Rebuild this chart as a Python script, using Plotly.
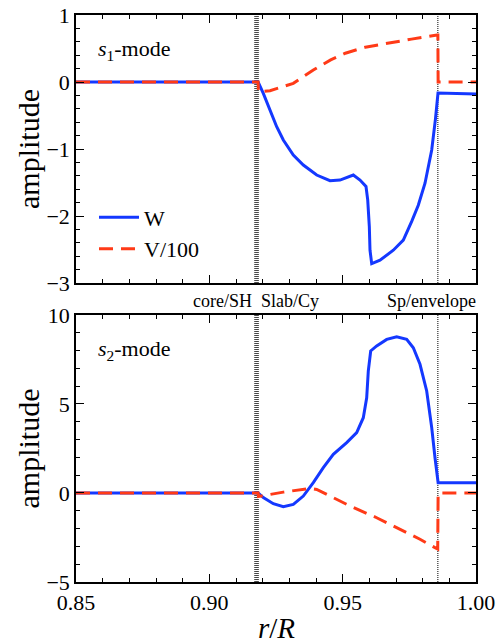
import plotly.graph_objects as go

# ---- data ----
r_w1 = [0.85, 0.9183, 0.92024, 0.92275, 0.92526, 0.92774, 0.93149, 0.93524, 0.94026, 0.94525,
        0.949, 0.95399, 0.9565, 0.95875, 0.95939, 0.96, 0.96025, 0.96089, 0.964, 0.96899,
        0.97274, 0.97589, 0.97836, 0.98088, 0.98275, 0.98339, 0.9848, 0.98575, 1.0]
w1 = [0, 0, -0.169, -0.418, -0.667, -0.866, -1.09, -1.239, -1.388, -1.473,
      -1.463, -1.388, -1.463, -1.56, -1.76, -2.16, -2.51, -2.71, -2.66, -2.51,
      -2.36, -2.08, -1.84, -1.51, -1.16, -1.015, -0.55, -0.164, -0.18]

r_v1 = [0.85, 0.9183, 0.9184, 0.92275, 0.93149, 0.93899, 0.9455, 0.951, 0.9585, 0.9683, 0.9758, 0.9854, 0.9857, 0.9858, 1.0]
v1 = [0, 0, -0.145, -0.13, -0.02, 0.18, 0.33, 0.43, 0.52, 0.59, 0.64, 0.70, 0.70, 0.0, 0.0]

r_w2 = [0.85, 0.9183, 0.92024, 0.92399, 0.92774, 0.93149, 0.93524, 0.93899, 0.94274, 0.94649,
        0.95151, 0.95526, 0.95774, 0.95901, 0.95961, 0.96051, 0.96276, 0.96651, 0.97026, 0.97401,
        0.97649, 0.979, 0.98151, 0.98339, 0.98463, 0.98549, 0.9858, 1.0]
w2 = [0, 0, -0.26, -0.6, -0.77, -0.64, -0.17, 0.58, 1.42, 2.17,
      2.83, 3.39, 4.23, 5.35, 6.85, 7.98, 8.26, 8.63, 8.78, 8.63,
      8.16, 7.23, 5.73, 3.67, 1.98, 0.9, 0.58, 0.58]

r_v2 = [0.85, 0.9183, 0.9184, 0.92774, 0.93775, 0.94026, 0.94525, 0.95275, 0.96276, 0.9715, 0.979, 0.98463, 0.98564, 0.9858, 1.0]
v2 = [0, 0, -0.2, 0.05, 0.26, 0.2, -0.17, -0.73, -1.39, -2.04, -2.6, -3.07, -3.15, 0.0, 0.0]

boundary_lines = [0.9171, 0.9175, 0.9179, 0.9183]
envelope_line = 0.9857
region_labels = ["core/SH", "Slab/Cy", "Sp/envelope"]

BLUE = "#1438ff"
RED = "#ff3a17"
FONT = "Liberation Serif"

fig = go.Figure()
fig.add_trace(go.Scatter(x=r_w1, y=w1, mode="lines", name="W",
                         line=dict(color=BLUE, width=3), xaxis="x", yaxis="y"))
fig.add_trace(go.Scatter(x=r_v1, y=v1, mode="lines", name="V/100",
                         line=dict(color=RED, width=3, dash="14px,8px"), xaxis="x", yaxis="y"))
fig.add_trace(go.Scatter(x=r_w2, y=w2, mode="lines", showlegend=False,
                         line=dict(color=BLUE, width=3), xaxis="x2", yaxis="y2"))
fig.add_trace(go.Scatter(x=r_v2, y=v2, mode="lines", showlegend=False,
                         line=dict(color=RED, width=3, dash="14px,8px"), xaxis="x2", yaxis="y2"))

shapes = []
for yr in ["y", "y2"]:
    xr = "x" if yr == "y" else "x2"
    for xv in boundary_lines + [envelope_line]:
        shapes.append(dict(type="line", xref=xr, yref=yr + " domain", x0=xv, x1=xv, y0=0, y1=1,
                           line=dict(color="black", width=1, dash="1px,1px"), layer="below"))

axis_common = dict(showline=True, linecolor="black", linewidth=1.5, mirror="allticks",
                   ticks="inside", ticklen=8, tickwidth=1.2, tickcolor="black",
                   showgrid=False, zeroline=False, automargin=False,
                   tickfont=dict(family=FONT, size=22, color="black"))

top_dom = [0.5273, 1.0]
bot_dom = [0.0, 0.4709]
minor_x = dict(ticks="inside", dtick=0.01, ticklen=4, tickcolor="black", tickwidth=1)

fig.update_layout(
    width=498, height=644,
    margin=dict(l=76, r=22, t=15, b=62, autoexpand=False),
    paper_bgcolor="white", plot_bgcolor="white",
    font=dict(family=FONT, color="black"),
    shapes=shapes,
    xaxis=dict(axis_common, domain=[0, 1], range=[0.85, 1.0], anchor="y",
               dtick=0.05, showticklabels=False, minor=minor_x),
    yaxis=dict(axis_common, domain=top_dom, range=[-3, 1], anchor="x", dtick=1,
               minor=dict(ticks="inside", dtick=0.2, ticklen=4, tickcolor="black", tickwidth=1)),
    xaxis2=dict(axis_common, domain=[0, 1], range=[0.85, 1.0], anchor="y2",
                dtick=0.05, tickformat=".2f", minor=minor_x),
    yaxis2=dict(axis_common, domain=bot_dom, range=[-5, 10], anchor="x2", dtick=5,
                minor=dict(ticks="inside", dtick=1, ticklen=4, tickcolor="black", tickwidth=1)),
    legend=dict(x=0.045, y=0.68, xanchor="left", yanchor="top",
                bgcolor="rgba(0,0,0,0)", font=dict(family=FONT, size=22),
                tracegroupgap=0, itemwidth=40),
    showlegend=True,
)

# axis titles
for yr in ["y", "y2"]:
    fig.add_annotation(text="amplitude", xref="paper", yref=yr + " domain",
                       x=-0.12, y=0.5, xanchor="center", yanchor="middle", textangle=-90,
                       showarrow=False, font=dict(family=FONT, size=30))
fig.add_annotation(text="<i>r</i>/<i>R</i>", xref="paper", yref="paper", x=0.5, y=-0.082,
                   xanchor="center", yanchor="middle", showarrow=False,
                   font=dict(family=FONT, size=29))

fig.add_annotation(text="<i>s</i><sub>1</sub>-mode", xref="paper", yref="paper",
                   x=0.05, y=0.938, xanchor="left", yanchor="middle", showarrow=False,
                   font=dict(family=FONT, size=22))
fig.add_annotation(text="<i>s</i><sub>2</sub>-mode", xref="paper", yref="paper",
                   x=0.05, y=0.41, xanchor="left", yanchor="middle", showarrow=False,
                   font=dict(family=FONT, size=22))

ylab = 0.496
fig.add_annotation(text=region_labels[0], xref="x", yref="paper", x=0.9168, y=ylab,
                   xanchor="right", yanchor="middle", showarrow=False, font=dict(family=FONT, size=18))
fig.add_annotation(text=region_labels[1], xref="x", yref="paper", x=0.9185, y=ylab,
                   xanchor="left", yanchor="middle", showarrow=False, font=dict(family=FONT, size=18))
fig.add_annotation(text=region_labels[2], xref="paper", yref="paper", x=1.006, y=ylab,
                   xanchor="right", yanchor="middle", showarrow=False, font=dict(family=FONT, size=18))

fig.write_html("out.html")
